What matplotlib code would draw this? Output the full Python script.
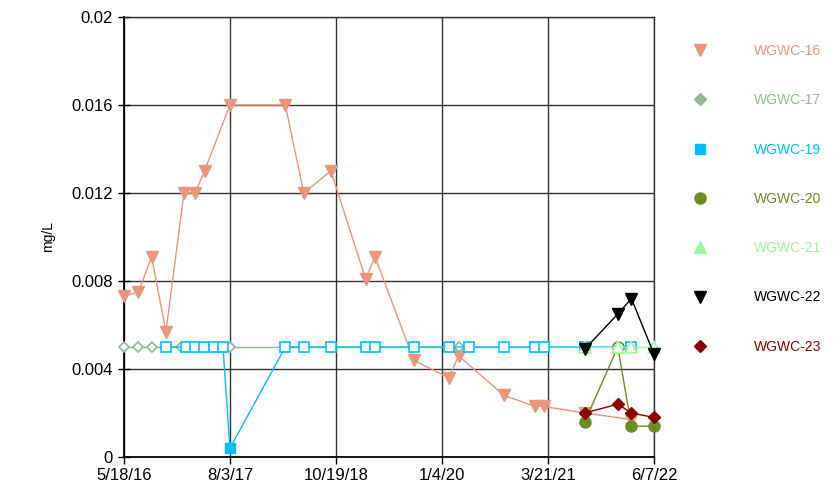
import pandas as pd
import matplotlib.pyplot as plt
from matplotlib.lines import Line2D

plt.rcParams['font.family'] = ['Liberation Sans', 'DejaVu Sans']

# valores (mg/L); nd = 1 -> marcador vazio (não detectado)
dates_16 = ['2016-05-18', '2016-07-17', '2016-09-10', '2016-11-09', '2017-01-23', '2017-03-10',
            '2017-04-19', '2017-08-03', '2018-03-22', '2018-06-07', '2018-09-28', '2019-02-20',
            '2019-03-31', '2019-09-09', '2020-02-02', '2020-03-14', '2020-09-19', '2021-01-27',
            '2021-03-04', '2021-08-22', '2022-03-05']
vals_16 = [0.0073, 0.0075, 0.0091, 0.0057, 0.012, 0.012, 0.013, 0.016, 0.016, 0.012, 0.013,
           0.0081, 0.0091, 0.0044, 0.0036, 0.0046, 0.0028, 0.0023, 0.0023, 0.0020, 0.0017]
nd_16 = [0] * 21

dates_17 = ['2016-05-18', '2016-07-17', '2016-09-10', '2017-01-11', '2017-08-03', '2018-03-22',
            '2018-06-07', '2018-09-28', '2019-02-20', '2019-03-31', '2019-09-09', '2020-02-02',
            '2020-03-14', '2020-09-19', '2021-01-27', '2021-03-04']
vals_17 = [0.005] * 16
nd_17 = [1] * 16

dates_19 = ['2016-11-09', '2017-01-31', '2017-03-10', '2017-04-17', '2017-05-28', '2017-07-05',
            '2017-08-03', '2018-03-22', '2018-06-07', '2018-09-28', '2019-02-20', '2019-03-31',
            '2019-09-09', '2020-02-02', '2020-04-27', '2020-09-19', '2021-01-27', '2021-03-04',
            '2021-08-22', '2022-03-05']
vals_19 = [0.005] * 6 + [0.0004] + [0.005] * 13
nd_19 = [1] * 6 + [0] + [1] * 13

dates_late = ['2021-08-22', '2022-01-07', '2022-03-05', '2022-06-06']
vals_20 = [0.0016, 0.005, 0.0014, 0.0014]
nd_20 = [0, 1, 0, 0]
vals_21 = [0.005, 0.005, 0.005, 0.005]
nd_21 = [1, 1, 1, 1]
vals_22 = [0.0049, 0.0065, 0.0072, 0.0047]
nd_22 = [0, 0, 0, 0]
vals_23 = [0.0020, 0.0024, 0.0020, 0.0018]
nd_23 = [0, 0, 0, 0]

tick_labels = ['5/18/16', '8/3/17', '10/19/18', '1/4/20', '3/21/21', '6/7/22']
y_ticks = [0, 0.004, 0.008, 0.012, 0.016, 0.02]
y_labels = ['0', '0.004', '0.008', '0.012', '0.016', '0.02']

series = [
    ('WGWC-16', dates_16, vals_16, nd_16, '#E9967A', 'v', 9),
    ('WGWC-17', dates_17, vals_17, nd_17, '#8FBC8F', 'D', 5.5),
    ('WGWC-19', dates_19, vals_19, nd_19, '#00BFFF', 's', 7.5),
    ('WGWC-20', dates_late, vals_20, nd_20, '#6B8E23', 'o', 8),
    ('WGWC-21', dates_late, vals_21, nd_21, '#98FB98', '^', 9),
    ('WGWC-22', dates_late, vals_22, nd_22, '#000000', 'v', 9),
    ('WGWC-23', dates_late, vals_23, nd_23, '#8B0000', 'D', 6),
]

fig = plt.figure(figsize=(8.35, 4.91), dpi=100)
ax = fig.add_axes([124 / 835, 1 - 457 / 491, 530 / 835, 440 / 491])

handles = []
for i, (name, d, v, nd, color, mk, ms) in enumerate(series):
    df = pd.DataFrame({'date': pd.to_datetime(d), 'val': v, 'nd': nd})
    z = 3 + i
    ax.plot(df['date'], df['val'], color=color, lw=1.0, zorder=z, clip_on=False)
    det = df[df['nd'] == 0]
    non = df[df['nd'] == 1]
    ax.plot(det['date'], det['val'], ls='none', marker=mk, ms=ms, color=color,
            mec=color, zorder=z, clip_on=False)
    ax.plot(non['date'], non['val'], ls='none', marker=mk, ms=ms, mfc='white',
            mec=color, mew=1.2, zorder=z, clip_on=False)
    leg_ms = 6 if mk == 'D' else ms
    handles.append(Line2D([], [], ls='none', marker=mk, ms=leg_ms, color=color, label=name))

tick_dates = pd.to_datetime(tick_labels, format='%m/%d/%y')
ax.set_xlim(tick_dates[0], tick_dates[-1])
ax.set_xticks(tick_dates)
ax.set_xticklabels(tick_labels, fontsize=12)
ax.set_ylim(0, 0.02)
ax.set_yticks(y_ticks)
ax.set_yticklabels(y_labels, fontsize=12)

ax.grid(True, color='#333333', lw=1.0)
ax.set_axisbelow(True)
for s in ['top', 'right']:
    ax.spines[s].set_color('#333333')
    ax.spines[s].set_linewidth(1.0)
for s in ['left', 'bottom']:
    ax.spines[s].set_color('black')
    ax.spines[s].set_linewidth(1.3)
ax.tick_params(axis='y', direction='inout', length=8, width=1, pad=4)
ax.tick_params(axis='x', direction='out', length=5, width=1, pad=3)

fig.text(48 / 835, 1 - 237 / 491, 'mg/L', rotation=90, ha='center', va='center', fontsize=10)

leg = fig.legend(handles=handles, loc='upper left', bbox_to_anchor=(686 / 835, 1 - 44 / 491),
                 bbox_transform=fig.transFigure, frameon=False, fontsize=10,
                 handlelength=2, handletextpad=2.9, labelspacing=2.54, borderpad=0,
                 borderaxespad=0, labelcolor=[s[4] for s in series])

plt.savefig('out.png', dpi=100)
